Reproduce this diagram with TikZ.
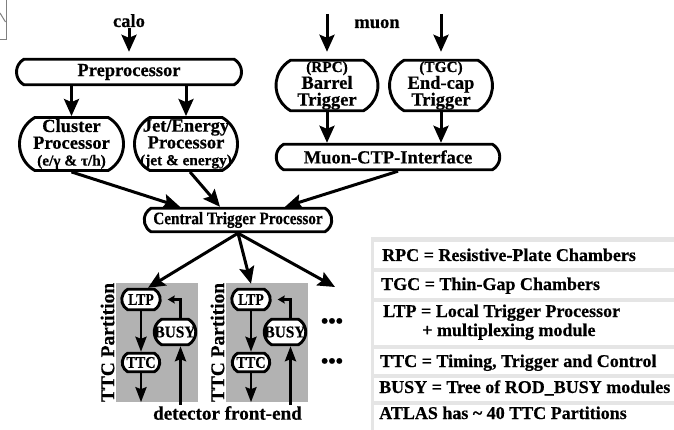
\documentclass[tikz,border=0pt]{standalone}
\usepackage{graphicx}
\usepackage{fontspec}
\setmainfont{Liberation Serif}[BoldFeatures={FakeBold=0.5}]
\usetikzlibrary{shapes.misc,arrows.meta,calc}
\newcommand{\zl}[1]{\makebox[0pt]{#1}}
\newcommand{\subsz}{\fontsize{15.3}{16.8}\selectfont}
\newcommand{\ptsz}{\fontsize{16.5}{16.5}\selectfont}
\begin{document}
\begin{tikzpicture}[x=1pt,y=-1pt,
  box/.style={draw, line width=2.9pt, rounded rectangle, rounded rectangle arc length=120,
    inner sep=0pt, fill=white, align=center, font=\bfseries\fontsize{18.5}{16.8}\selectfont},
  arr/.style={line width=3pt, -{Stealth[length=17pt,width=15pt,inset=3pt]}},
  parr/.style={line width=2.8pt, -{Stealth[length=15pt,width=11pt,inset=2pt]}},
  sarr/.style={line width=2.4pt, -{Stealth[length=7pt,width=8pt,inset=1pt]}},
  lbl/.style={font=\bfseries\fontsize{18.5}{18.5}\selectfont, inner sep=1pt},
  leg/.style={font=\bfseries\fontsize{18}{18}\selectfont, inner sep=0pt, anchor=base west},
  partbg/.style={fill=gray!60, draw=none, inner sep=0pt, minimum width=82pt, minimum height=119pt},
]
\useasboundingbox (0,0) rectangle (674,430);
\fill[white] (0,0) rectangle (674,430);

% corner fragment
\draw[gray, line width=1pt] (6,0) -- (6,40) -- (0,40);
\draw[gray, line width=1pt] (0,13) -- (5.5,22);

% calo branch
\node[lbl, anchor=base] (calo) at (129,27) {calo};
\node[box, minimum width=225pt, minimum height=25.5pt] (prep) at (129,72) {\zl{Preprocessor}};
\node[box, minimum width=104pt, minimum height=53pt] (clu) at (71.5,144)
  {\zl{Cluster}\\\zl{Processor}\\\zl{\subsz (e/γ \& τ/h)}};
\node[box, minimum width=103pt, minimum height=53pt] (jet) at (186,144)
  {\zl{Jet/Energy}\\\zl{Processor}\\\zl{\subsz (jet \& energy)}};
\draw[arr] (calo.south) -- ([yshift=6pt]prep.north);
\draw[arr] (clu.north |- prep.south) -- (clu.north);
\draw[arr] (jet.north |- prep.south) -- (jet.north);

% muon branch
\node[lbl, anchor=base] (muon) at (377,28) {muon};
\node[box, minimum width=102pt, minimum height=50.5pt] (bar) at (327,85.5)
  {\zl{\subsz (RPC)}\\\zl{Barrel}\\\zl{Trigger}};
\node[box, minimum width=103pt, minimum height=50.5pt] (endc) at (441,85.5)
  {\zl{\subsz (TGC)}\\\zl{End-cap}\\\zl{Trigger}};
\path (bar.north) ++(0,-45) coordinate (mu1);
\path (endc.north) ++(0,-45) coordinate (mu2);
\draw[arr] (mu1) -- ([yshift=7pt]bar.north);
\draw[arr] (mu2) -- ([yshift=7pt]endc.north);
\node[box, minimum width=223.5pt, minimum height=25.5pt] (mctp) at (388,157) {\zl{Muon-CTP-Interface}};
\draw[arr] (bar.south) -- (bar.south |- mctp.north);
\draw[arr] (endc.south) -- (endc.south |- mctp.north);

% CTP
\node[box, minimum width=187.5pt, minimum height=23.5pt] (ctp) at (238,220)
  {\zl{\scalebox{0.87}[1]{\fontsize{17.5}{17.5}\selectfont Central Trigger Processor}}};
\draw[arr] (clu.south) -- ([xshift=-58pt]ctp.north);
\draw[arr] ([xshift=4pt]jet.south) -- ([xshift=-18pt]ctp.north);
\draw[arr] ([xshift=10pt]mctp.south) -- ([xshift=47pt]ctp.north);

% partitions
\node[partbg] (part1) at (157,342.5) {};
\node[partbg] (part2) at (267,342.5) {};
\node[lbl, rotate=90, font=\bfseries\fontsize{19.4}{19.4}\selectfont] (tp1) at (107.5,342.5) {TTC Partition};
\node[lbl, rotate=90, font=\bfseries\fontsize{19.4}{19.4}\selectfont] (tp2) at (217.5,342.5) {TTC Partition};

\node[box, minimum width=38.5pt, minimum height=20.5pt] (ltp1) at (141,299.5) {\zl{\ptsz\scalebox{0.84}[1]{LTP}}};
\node[box, minimum width=41.5pt, minimum height=25.5pt] (busy1) at (175,332) {\zl{\ptsz\scalebox{0.93}[1]{BUSY}}};
\node[box, minimum width=37.5pt, minimum height=18.5pt] (ttc1) at (141,362.5) {\zl{\ptsz\scalebox{0.86}[1]{TTC}}};
\node[box, minimum width=38.5pt, minimum height=20.5pt] (ltp2) at (251,299.5) {\zl{\ptsz\scalebox{0.84}[1]{LTP}}};
\node[box, minimum width=41.5pt, minimum height=25.5pt] (busy2) at (285,332) {\zl{\ptsz\scalebox{0.93}[1]{BUSY}}};
\node[box, minimum width=37.5pt, minimum height=18.5pt] (ttc2) at (251,362.5) {\zl{\ptsz\scalebox{0.86}[1]{TTC}}};

\draw[arr] (ctp.south) -- ([xshift=7pt]ltp1.north);
\draw[arr] (ctp.south) -- ([yshift=4pt]ltp2.north);
\coordinate (nxt) at (335,287);
\draw[arr] (ctp.south) -- (nxt);

\draw[parr] (ltp1.south) -- (ttc1.north);
\draw[parr] (ltp2.south) -- (ttc2.north);
\draw[parr] (ttc1.south) -- (ttc1.south |- part1.south);
\draw[parr] (ttc2.south) -- (ttc2.south |- part2.south);

\node[lbl, font=\bfseries\fontsize{21}{21}\selectfont] (dots1) at (332,323) {•••};
\node[lbl, font=\bfseries\fontsize{21}{21}\selectfont] (dots2) at (332,363) {•••};

\node[lbl, font=\bfseries\fontsize{19.1}{19.1}\selectfont] (det) at (227.5,413) {detector front-end};
\coordinate (b1s) at ($(busy1.south)+(5.5,0)$);
\coordinate (b2s) at ($(busy2.south)+(5.5,0)$);
\coordinate (b1n) at ($(busy1.north)+(5.5,0)$);
\coordinate (b2n) at ($(busy2.north)+(5.5,0)$);
\draw[parr] (b1s |- det.north) -- (b1s);
\draw[parr] (b2s |- det.north) -- (b2s);
\draw[sarr] (b1n) |- ($(ltp1.east)+(6,0)$);
\draw[sarr] (b2n) |- ($(ltp2.east)+(6,0)$);

% legend
\fill[gray!20] (371,237) rectangle (674,430);
\fill[white] (374,242) rectangle (674,268);
\fill[white] (374,272) rectangle (674,298);
\fill[white] (374,302) rectangle (674,345);
\fill[white] (374,349) rectangle (674,374);
\fill[white] (374,378) rectangle (674,401);
\fill[white] (374,405) rectangle (674,430);
\node[leg] (leg1) at (382,261) {RPC = Resistive-Plate Chambers};
\node[leg] (leg2) at (381,290) {TGC = Thin-Gap Chambers};
\node[leg] (leg3) at (383,317) {LTP = Local Trigger Processor};
\node[leg] (leg4) at (422,336) {+ multiplexing module};
\node[leg] (leg5) at (380,367) {TTC = Timing, Trigger and Control};
\node[leg] (leg6) at (379,393) {BUSY = Tree of ROD\_BUSY modules};
\node[leg] (leg7) at (379,419) {ATLAS has \textasciitilde{} 40 TTC Partitions};
\end{tikzpicture}
\end{document}
